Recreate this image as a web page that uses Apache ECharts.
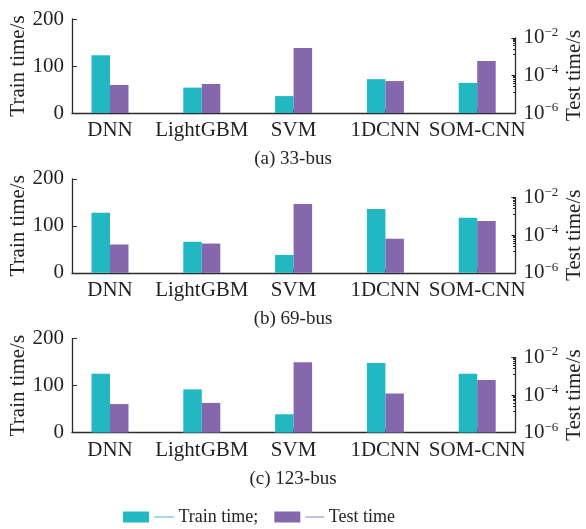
<!DOCTYPE html>
<html>
<head>
<meta charset="utf-8">
<script src="https://cdn.jsdelivr.net/npm/echarts@6/dist/echarts.min.js"></script>
<style>html,body{margin:0;padding:0;background:#fff}#c{width:586px;height:529px}</style>
</head>
<body>
<div id="c"></div>
<script>
// ---- data ----
const categories = ['DNN', 'LightGBM', 'SVM', '1DCNN', 'SOM-CNN'];
const train33 = [123, 54, 36, 72, 64];
const test33 = [3.1e-5, 3.5e-5, 2.9e-3, 5.0e-5, 5.9e-4];
const train69 = [128, 66, 38, 136, 117];
const test69 = [3.2e-5, 3.6e-5, 4.6e-3, 6.5e-5, 5.7e-4];
const train123 = [125, 92, 39, 148, 125];
const test123 = [3.3e-5, 3.8e-5, 5.5e-3, 1.2e-4, 6.2e-4];
const panelTitles = ['(a) 33-bus', '(b) 69-bus', '(c) 123-bus'];
const trainTicks = [0, 100, 200];
const testTicks = [1e-6, 1e-4, 1e-2];
const seriesNames = ['Train time;', 'Test time'];

// ---- style ----
const FONT = 'Liberation Serif';
const TXT = '#231f20';
const AX = '#2b2b2b';
const TEAL = '#22b8c3';
const PURPLE = '#8467ad';
const TEAL_L = '#a4dfe3';
const PURPLE_L = '#c8bddd';
const BAR_W = 18.5;

const panels = [
  {train: train33, test: test33, title: panelTitles[0]},
  {train: train69, test: test69, title: panelTitles[1]},
  {train: train123, test: test123, title: panelTitles[2]}
];

const grid = [], xAxis = [], yAxis = [], series = [], title = [];
const H = 94, STEP = 159.8, TOP0 = 19;
const decadePx = H / 5;

function logLabel(v) {
  const e = Math.round(Math.log10(v));
  return '{b|10}{s|' + (e < 0 ? '\u2212' : '') + Math.abs(e) + '}';
}

// bar drawn through the axis scales; side = -1 (left of category centre) or 0 (right)
function makeBarRender(baseValue, side) {
  return function (params, api) {
    const cat = api.value(0);
    const top = api.coord([cat, api.value(1)]);
    const base = api.coord([cat, baseValue]);
    return {
      type: 'rect',
      shape: {x: top[0] + side * BAR_W, y: top[1], width: BAR_W, height: base[1] - top[1]},
      style: api.style()
    };
  };
}

panels.forEach((p, i) => {
  const top = TOP0 + STEP * i;
  const gcommon = {outerBoundsMode: 'none', containLabel: false};
  grid.push(Object.assign({left: 64.1, right: 62.9, top: top, height: H}, gcommon));              // data grid
  grid.push(Object.assign({left: 72, right: 70.5, top: top, height: H}, gcommon));                // left axis + x line
  grid.push(Object.assign({left: 72, right: 70.5, top: top + decadePx, height: H - decadePx}, gcommon)); // right log axis
  const gA = 3 * i, gC = 3 * i + 1, gB = 3 * i + 2;

  xAxis.push({
    type: 'category', gridIndex: gA, data: categories,
    axisLine: {show: false},
    axisTick: {show: true, inside: true, alignWithLabel: true, length: 4, lineStyle: {color: AX, width: 1}},
    axisLabel: {fontFamily: FONT, fontSize: 21, color: TXT, margin: 7, interval: 0}
  });
  xAxis.push({
    type: 'category', gridIndex: gC, data: categories,
    axisLine: {show: true, lineStyle: {color: AX, width: 1.3}},
    axisTick: {show: false}, axisLabel: {show: false}
  });
  xAxis.push({type: 'category', gridIndex: gB, data: categories, show: false});

  const yBase = 4 * i;
  yAxis.push({type: 'value', gridIndex: gA, min: trainTicks[0], max: trainTicks[2], show: false});
  yAxis.push({type: 'log', gridIndex: gA, logBase: 10, min: testTicks[0], max: testTicks[2] * 10, show: false});
  yAxis.push({
    type: 'value', gridIndex: gC, position: 'left', min: trainTicks[0], max: trainTicks[2], interval: 100,
    name: 'Train time/s', nameLocation: 'middle', nameRotate: 90, nameGap: 43, nameMoveOverlap: false,
    nameTextStyle: {fontFamily: FONT, fontSize: 21, color: TXT},
    axisLine: {show: true, lineStyle: {color: AX, width: 1.3}},
    axisTick: {show: true, inside: true, length: 5, lineStyle: {color: AX}},
    axisLabel: {fontFamily: FONT, fontSize: 21, color: TXT, margin: 8},
    splitLine: {show: false}
  });
  yAxis.push({
    type: 'log', gridIndex: gB, position: 'right', logBase: 10, min: testTicks[0], max: testTicks[2],
    interval: 2, splitNumber: 2,
    name: 'Test time/s', nameLocation: 'middle', nameRotate: 90, nameGap: 48, nameMoveOverlap: false,
    nameTextStyle: {fontFamily: FONT, fontSize: 21, color: TXT},
    axisLine: {show: true, lineStyle: {color: AX, width: 1.3}},
    axisTick: {show: true, inside: true, length: 4, lineStyle: {color: AX}},
    minorTick: {show: true, splitNumber: 8, length: 2.5, lineStyle: {color: AX}},
    axisLabel: {
      margin: 8, formatter: logLabel,
      rich: {
        b: {fontFamily: FONT, fontSize: 21, color: TXT, lineHeight: 24},
        s: {fontFamily: FONT, fontSize: 13, color: TXT, verticalAlign: 'top', lineHeight: 14}
      }
    },
    splitLine: {show: false}, minorSplitLine: {show: false}
  });

  series.push({
    name: seriesNames[0], type: 'custom', xAxisIndex: gA, yAxisIndex: yBase,
    data: p.train.map((v, j) => [j, v]),
    encode: {x: 0, y: 1},
    renderItem: makeBarRender(trainTicks[0], -1), itemStyle: {color: TEAL}
  });
  series.push({
    name: seriesNames[1], type: 'custom', xAxisIndex: gA, yAxisIndex: yBase + 1,
    data: p.test.map((v, j) => [j, v]),
    encode: {x: 0, y: 1},
    renderItem: makeBarRender(testTicks[0], 0), itemStyle: {color: PURPLE}
  });

  title.push({
    text: p.title, left: 'center', top: 145 + STEP * i,
    textStyle: {fontFamily: FONT, fontSize: 19, fontWeight: 'normal', color: TXT}
  });
});

const chart = echarts.init(document.getElementById('c'), null, {renderer: 'canvas'});
chart.setOption({
  animation: false,
  backgroundColor: '#fff',
  title: title,
  grid: grid,
  xAxis: xAxis,
  yAxis: yAxis,
  series: series,
  legend: {
    data: seriesNames, left: 123, top: 508, padding: 0, icon: 'rect',
    itemWidth: 26, itemHeight: 11, itemGap: 16,
    itemStyle: {opacity: 1},
    formatter: function (name) {
      return (name === seriesNames[0] ? '{lt| }' : '{lp| }') + ' ' + name;
    },
    textStyle: {
      fontFamily: FONT, fontSize: 18, color: TXT,
      rich: {
        lt: {width: 20, height: 2, backgroundColor: TEAL_L},
        lp: {width: 19, height: 2, backgroundColor: PURPLE_L}
      }
    }
  }
});
</script>
</body>
</html>
